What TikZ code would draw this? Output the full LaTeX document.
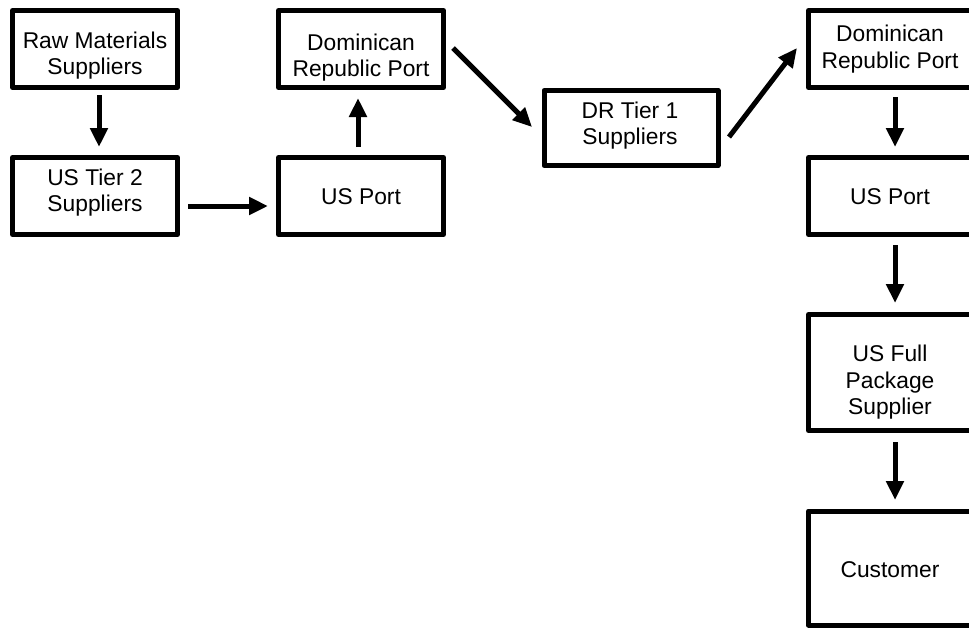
\documentclass[tikz,border=0pt]{standalone}
\usepackage{fontspec}
\setmainfont{Liberation Sans}
\usetikzlibrary{arrows.meta,calc}

\tikzset{
  box/.style={draw=black, line width=5pt, line join=round, fill=white,
    rectangle, minimum width=165pt, minimum height=77pt, inner sep=0pt},
  lbl/.style={align=center, inner sep=0pt, text=black,
    font=\fontsize{22.8}{26.5}\selectfont},
  flow/.style={line width=5pt, -{Triangle[length=19pt,width=17pt]}},
}

\begin{document}
\begin{tikzpicture}[x=1pt, y=-1pt]
  \fill[white] (0,0) rectangle (969,627);
  \useasboundingbox (0,0) rectangle (969,627);
  \clip (0,0) rectangle (969,627);

  % boxes
  \node[box] (raw)      at (95,49)  {};
  \node[box] (tier2)    at (95,196) {};
  \node[box] (drport1)  at (361,49) {};
  \node[box] (usport1)  at (361,196) {};
  \node[box, minimum width=174pt, minimum height=75pt] (tier1) at (631,128) {};
  \node[box] (drport2)  at (891,49) {};
  \node[box] (usport2)  at (891,196) {};
  \node[box, minimum height=116pt] (fullpkg)  at (891,372.5) {};
  \node[box, minimum height=114pt] (customer) at (891,568) {};

  % box texts
  \node[lbl] (raw-t)      at (95,55.5)   {Raw Materials\\Suppliers};
  \node[lbl] (tier2-t)    at (95,192.5)  {US Tier 2\\Suppliers};
  \node[lbl] (drport1-t)  at (361,57.5)  {Dominican\\Republic Port};
  \node[lbl] (usport1-t)  at (361,197)   {US Port};
  \node[lbl] (tier1-t)    at (630,125.8) {DR Tier 1\\Suppliers};
  \node[lbl] (drport2-t)  at (890,49.2)  {Dominican\\Republic Port};
  \node[lbl] (usport2-t)  at (890,197)   {US Port};
  \node[lbl] (fullpkg-t)  at (890,382.5) {US Full\\Package\\Supplier};
  \node[lbl] (customer-t) at (890,570)   {Customer};

  % flow arrows
  \draw[flow, shorten <=5pt, shorten >=8pt]
    ([xshift=4pt]raw.south) -- ([xshift=4pt]tier2.north);
  \draw[flow, shorten <=8pt, shorten >=8pt]
    ([yshift=-10pt]tier2.east) -- ([yshift=-10pt]usport1.west);
  \draw[flow, shorten <=8pt, shorten >=8pt]
    ([xshift=-3pt]usport1.north) -- ([xshift=-3pt]drport1.south);
  \draw[flow] ($(drport1.east)+(7,-1)$) -- ($(tier1.west)+(-9.5,-1)$);
  \draw[flow] ($(tier1.east)+(8.5,9)$) -- ($(drport2.west)+(-9,-1)$);
  \draw[flow, shorten <=7pt, shorten >=8pt]
    ([xshift=4pt]drport2.south) -- ([xshift=4pt]usport2.north);
  \draw[flow, shorten <=8pt, shorten >=9pt]
    ([xshift=4pt]usport2.south) -- ([xshift=4pt]fullpkg.north);
  \draw[flow, shorten <=9pt, shorten >=8.5pt]
    ([xshift=4pt]fullpkg.south) -- ([xshift=4pt]customer.north);
\end{tikzpicture}
\end{document}
